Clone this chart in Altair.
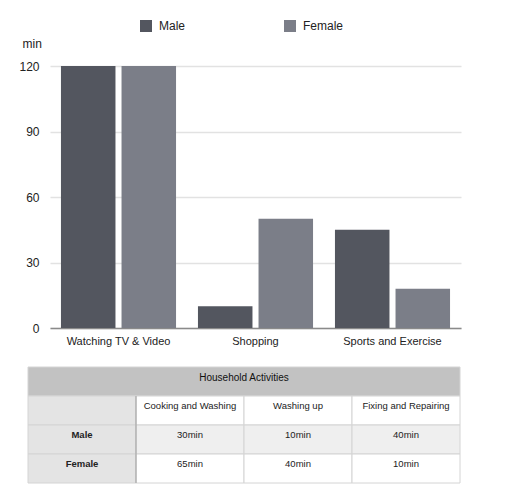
import altair as alt
import pandas as pd

# ---- bar chart data ----
activities = ["Watching TV & Video", "Shopping", "Sports and Exercise"]
male_minutes = [120, 10, 45]
female_minutes = [120, 50, 18]
genders = ["Male", "Female"]
gender_colors = ["#53565f", "#7b7e88"]
y_ticks = [0, 30, 60, 90, 120]

# ---- table data ----
table_title = "Household Activities"
table_columns = ["Cooking and Washing", "Washing up", "Fixing and Repairing"]
table_rows = ["Male", "Female"]
table_male = ["30min", "10min", "40min"]
table_female = ["65min", "40min", "10min"]

FONT = "Liberation Sans"

bars = []
for a, m, f in zip(activities, male_minutes, female_minutes):
    bars.append({"activity": a, "gender": "Male", "minutes": m})
    bars.append({"activity": a, "gender": "Female", "minutes": f})
bar_df = pd.DataFrame(bars)

bar_chart = alt.Chart(bar_df).mark_bar().encode(
    x=alt.X("activity:N", sort=activities,
            scale=alt.Scale(paddingInner=0.16, paddingOuter=0.08),
            axis=alt.Axis(title=None, labelAngle=0, labelFontSize=11, labelColor="#222",
                          labelFont=FONT, labelPadding=7, ticks=False,
                          domainColor="#8a8a8a", domainWidth=1.5)),
    xOffset=alt.XOffset("gender:N", sort=genders, scale=alt.Scale(paddingInner=0.1)),
    y=alt.Y("minutes:Q", scale=alt.Scale(domain=[0, 120], nice=False),
            axis=alt.Axis(values=y_ticks, title="min", titleAngle=0, titleX=-28, titleY=-23,
                          titleAlign="left", titleBaseline="middle", titleFontWeight="normal",
                          titleFontSize=12, titleFont=FONT, titleColor="#222",
                          labelFontSize=12, labelFont=FONT, labelColor="#222",
                          labelPadding=11, ticks=False, domain=False,
                          gridColor="#e2e2e2", gridWidth=1.5)),
    color=alt.Color("gender:N", sort=genders,
                    scale=alt.Scale(domain=genders, range=gender_colors),
                    legend=alt.Legend(title=None, orient="none", legendX=90, legendY=-46,
                                      direction="horizontal", symbolType="square",
                                      symbolSize=144, symbolStrokeWidth=0,
                                      labelFontSize=12, labelFont=FONT, labelColor="#222",
                                      labelOffset=7, columnPadding=98)),
).properties(width=411, height=262)

# ---- table cells ----
cells = []
cells.append({"x0": 0, "x1": 4, "y0": 0, "y1": 1, "fill": "#c2c2c2"})
cells.append({"x0": 0, "x1": 1, "y0": 1, "y1": 2, "fill": "#e4e4e4"})
for j in range(3):
    cells.append({"x0": j + 1, "x1": j + 2, "y0": 1, "y1": 2, "fill": "#ffffff"})
for i, rname in enumerate(table_rows):
    r = i + 2
    cells.append({"x0": 0, "x1": 1, "y0": r, "y1": r + 1, "fill": "#e4e4e4"})
    for j in range(3):
        cells.append({"x0": j + 1, "x1": j + 2, "y0": r, "y1": r + 1,
                      "fill": "#efefef" if i == 0 else "#ffffff"})
cell_df = pd.DataFrame(cells)

texts = []
bold_texts = []
for j, c in enumerate(table_columns):
    texts.append({"xc": j + 1.5, "y0": 1, "label": c})
for i, (rname, vals) in enumerate(zip(table_rows, [table_male, table_female])):
    r = i + 2
    bold_texts.append({"xc": 0.5, "y0": r, "label": rname})
    for j, v in enumerate(vals):
        texts.append({"xc": j + 1.5, "y0": r, "label": v})
text_df = pd.DataFrame(texts)
bold_df = pd.DataFrame(bold_texts)
title_df = pd.DataFrame([{"xc": 2, "y0": 0, "label": table_title}])

xs = alt.Scale(domain=[0, 4], nice=False, zero=False, range=[-22, 410])
ys = alt.Scale(domain=[0, 4], nice=False, zero=False, reverse=True)

rects = alt.Chart(cell_df).mark_rect(stroke="#d4d4d4", strokeWidth=1).encode(
    x=alt.X("x0:Q", scale=xs, axis=None),
    x2="x1:Q",
    y=alt.Y("y0:Q", scale=ys, axis=None),
    y2="y1:Q",
    fill=alt.Fill("fill:N", scale=None),
)
divider = alt.Chart(pd.DataFrame([{"x": 1, "y0": 1, "y1": 4}])).mark_rule(
    color="#a9a9a9", strokeWidth=1.2).encode(
    x=alt.X("x:Q", scale=xs, axis=None),
    y=alt.Y("y0:Q", scale=ys, axis=None),
    y2="y1:Q",
)
body_text = alt.Chart(text_df).mark_text(fontSize=9.5, font=FONT, color="#222",
                                         baseline="middle", dy=9.5).encode(
    x=alt.X("xc:Q", scale=xs, axis=None),
    y=alt.Y("y0:Q", scale=ys, axis=None),
    text="label:N",
)
bold_text = alt.Chart(bold_df).mark_text(fontSize=9.5, font=FONT, color="#222",
                                         fontWeight="bold", baseline="middle", dy=9.5).encode(
    x=alt.X("xc:Q", scale=xs, axis=None),
    y=alt.Y("y0:Q", scale=ys, axis=None),
    text="label:N",
)
head_text = alt.Chart(title_df).mark_text(fontSize=10, font=FONT, color="#111",
                                          baseline="middle", dy=10.5).encode(
    x=alt.X("xc:Q", scale=xs, axis=None),
    y=alt.Y("y0:Q", scale=ys, axis=None),
    text="label:N",
)
table = alt.layer(rects, divider, body_text, bold_text, head_text).properties(width=388, height=116)

chart = alt.vconcat(bar_chart, table, spacing=20, background="white",
                    padding={"left": 10, "top": 12, "right": 5, "bottom": 5}).configure_view(stroke=None)
chart.save("out.html", embed_options={"renderer": "svg", "actions": False})
